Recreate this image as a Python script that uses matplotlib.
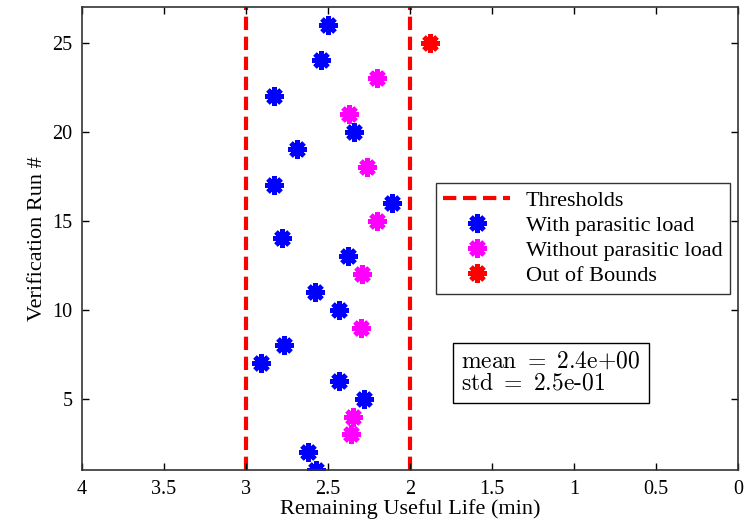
import matplotlib
matplotlib.use("Agg")
import matplotlib.pyplot as plt
from matplotlib.lines import Line2D

# Data
runs_with = [1, 2, 5, 6, 7, 8, 10, 11, 13, 14, 16, 17, 19, 20, 22, 24, 26]
rul_with = [2.57, 2.62, 2.28, 2.43, 2.91, 2.77, 2.43, 2.58, 2.38, 2.78, 2.11, 2.83, 2.69, 2.34, 2.83, 2.54, 2.50]
runs_without = [3, 4, 9, 12, 15, 18, 21, 23]
rul_without = [2.36, 2.35, 2.30, 2.29, 2.20, 2.26, 2.37, 2.20]
runs_oob = [25]
rul_oob = [1.88]
thresholds = [3.0, 2.0]
stats_text = [r"$\mathrm{mean}\ =\ 2.4\mathrm{e}{+}00$", r"$\mathrm{std}\ =\ 2.5\mathrm{e}\text{-}01$"]
x_ticks = [0, 0.5, 1, 1.5, 2, 2.5, 3, 3.5, 4]
x_ticklabels = ["0", "0.5", "1", "1.5", "2", "2.5", "3", "3.5", "4"]
y_ticks = [5, 10, 15, 20, 25]

plt.rcParams['font.family'] = ['Liberation Serif', 'DejaVu Serif']
plt.rcParams['mathtext.fontset'] = 'cm'

fig = plt.figure(figsize=(7.48, 5.21), dpi=100)
ax = fig.add_axes([0.1096, 0.0979, 0.877, 0.8887])

mk = dict(marker=(8, 2, 0), markersize=13, mew=3.5, linestyle='none')
for t in thresholds:
    ax.axvline(t, color='red', linestyle=(0, (3.2, 1.6)), linewidth=3, zorder=1)
ax.plot(rul_with, runs_with, color='blue', **mk)
ax.plot(rul_without, runs_without, color='magenta', **mk)
ax.plot(rul_oob, runs_oob, color='red', **mk)

ax.set_xlim(4, 0)
ax.set_ylim(1, 27)
ax.set_xticks(x_ticks)
ax.set_xticklabels(x_ticklabels)
ax.set_yticks(y_ticks)
ax.tick_params(direction='in', top=True, right=True, labelsize=14.5, length=5, width=1, pad=7)
for s in ax.spines.values():
    s.set_linewidth(1.2)
    s.set_color('#333333')
ax.set_xlabel("Remaining Useful Life (min)", fontsize=16, labelpad=0)
ax.set_ylabel("Verification Run #", fontsize=16, labelpad=4)

handles = [
    Line2D([], [], color='red', linestyle=(0, (3.2, 1.6)), linewidth=3),
    Line2D([], [], color='blue', **mk),
    Line2D([], [], color='magenta', **mk),
    Line2D([], [], color='red', **mk),
]
labels = ["Thresholds", "With parasitic load", "Without parasitic load", "Out of Bounds"]
leg = ax.legend(handles, labels, loc='upper right', bbox_to_anchor=(0.988, 0.62),
                fontsize=16, frameon=True, fancybox=False, edgecolor='black',
                borderpad=0.35, labelspacing=0.2, handlelength=3.0, handletextpad=0.7,
                borderaxespad=0)
leg.get_frame().set_linewidth(1.0)

ax.text(0.578, 0.163, "\n".join(stats_text), transform=ax.transAxes, fontsize=17,
        va='bottom', ha='left', linespacing=1.0,
        bbox=dict(boxstyle='square,pad=0.35', facecolor='white', edgecolor='black', linewidth=1.0))

fig.savefig("out.png", dpi=100)
